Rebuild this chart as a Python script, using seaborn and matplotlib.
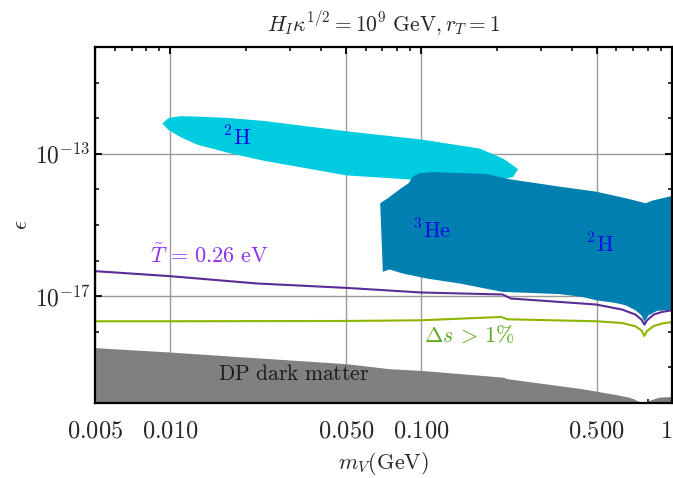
import numpy as np
import matplotlib
matplotlib.use("Agg")
import matplotlib.pyplot as plt
import matplotlib.ticker as mticker
import seaborn as sns

# ---------------- data (m_V in GeV, log10(epsilon)) ----------------
# light 2H region
h2a_m = [0.00923, 0.0098, 0.01089, 0.0127, 0.0167, 0.0234, 0.050, 0.100, 0.1706, 0.2111, 0.2312, 0.2421]
h2a_top = [-12.135, -11.977, -11.93, -11.94, -11.977, -12.062, -12.352, -12.586, -12.84, -13.121, -13.31, -13.42]
h2a_bot = [-12.135, -12.324, -12.513, -12.727, -12.95, -13.18, -13.592, -13.73, -13.79, -13.70, -13.64, -13.42]

# dark 3He / 2H region
he_top_m = [0.0686, 0.0736, 0.0782, 0.0832, 0.0891, 0.0925, 0.0984, 0.1112, 0.1811, 0.2244, 0.3548, 0.4966,
            0.6546, 0.7852, 0.8356, 1.0]
he_top = [-14.389, -14.248, -14.107, -13.966, -13.825, -13.639, -13.544, -13.515, -13.563, -13.713, -13.921,
          -14.062, -14.248, -14.389, -14.315, -14.183]
he_bot_m = [0.0703, 0.0746, 0.0843, 0.1047, 0.1419, 0.2109, 0.3548, 0.4385, 0.4983, 0.5943, 0.6516, 0.7145,
            0.7551, 0.7762, 0.807, 0.871, 1.0]
he_bot = [-16.315, -16.248, -16.361, -16.501, -16.642, -16.879, -16.94, -17.02, -17.113, -17.189, -17.254,
          -17.394, -17.535, -17.724, -17.535, -17.414, -17.375]

# T = 0.26 eV line
t_m = [0.005, 0.00995, 0.02203, 0.0502, 0.1, 0.2109, 0.228, 0.4385, 0.4983, 0.6324, 0.7145, 0.7551, 0.7762,
       0.7955, 0.8453, 0.912, 1.0]
t_eps = [-16.296, -16.437, -16.642, -16.766, -16.896, -16.952, -17.065, -17.206, -17.234, -17.375, -17.515,
         -17.656, -17.797, -17.676, -17.515, -17.442, -17.394]

# Delta s > 1% line
ds_m = [0.005, 0.00995, 0.0502, 0.1, 0.1462, 0.208, 0.2208, 0.4983, 0.6324, 0.7145, 0.7551, 0.7762, 0.7955,
        0.8453, 0.912, 1.0]
ds_eps = [-17.704, -17.704, -17.696, -17.676, -17.628, -17.583, -17.648, -17.704, -17.752, -17.845, -17.958,
          -18.118, -17.977, -17.837, -17.769, -17.724]

# DP dark matter region (upper edge)
dm_m = [0.005, 0.00995, 0.0502, 0.0746, 0.1, 0.2109, 0.2208, 0.4385, 0.4983, 0.5943, 0.673, 0.7362, 0.7762,
        0.807, 0.885, 1.0]
dm_eps = [-18.445, -18.569, -18.896, -19.037, -19.085, -19.273, -19.318, -19.6, -19.668, -19.761, -19.837,
          -19.949, -20.1, -19.93, -19.837, -19.817]

x_ticks = [0.005, 0.01, 0.05, 0.1, 0.5, 1]
x_ticklabels = ["0.005", "0.010", "0.050", "0.100", "0.500", "1"]
x_minor = [0.006, 0.007, 0.008, 0.009, 0.02, 0.03, 0.04, 0.06, 0.07, 0.08, 0.09,
           0.2, 0.3, 0.4, 0.6, 0.7, 0.8, 0.9]
y_ticks = [1e-13, 1e-17]
y_ticklabels = [r"$10^{-13}$", r"$10^{-17}$"]
y_minor = [1e-19, 1e-18, 1e-16, 1e-15, 1e-14, 1e-12, 1e-11]

# ---------------- style ----------------
sns.set_theme(style="ticks")
plt.rcParams["mathtext.fontset"] = "cm"
plt.rcParams["font.family"] = ["DejaVu Serif"]

fig = plt.figure(figsize=(6.73, 4.78), dpi=100)
ax = fig.add_axes([95 / 673, 1 - 403 / 478, 577 / 673, 356 / 478])
ax.set_xscale("log")
ax.set_yscale("log")

def pw(v):
    return 10.0 ** np.asarray(v)

# regions
ax.fill_between(h2a_m, pw(h2a_bot), pw(h2a_top), color="#00CCE0", lw=0, zorder=2)
ax.fill(np.r_[he_top_m, he_bot_m[::-1]], pw(np.r_[he_top, he_bot[::-1]]), color="#0080B0", lw=0, zorder=3)
ax.fill_between(dm_m, 1e-22, pw(dm_eps), color="#808080", lw=0, zorder=2)

# lines
sns.lineplot(x=t_m, y=pw(t_eps), ax=ax, color="#5A2C96", lw=1.5, estimator=None, zorder=4)
sns.lineplot(x=ds_m, y=pw(ds_eps), ax=ax, color="#8DB600", lw=1.5, estimator=None, zorder=4)

ax.set_xlim(0.005, 1)
ax.set_ylim(1e-20, 1e-10)

ax.xaxis.set_major_locator(mticker.FixedLocator(x_ticks))
ax.xaxis.set_major_formatter(mticker.FixedFormatter([f"${t}$" for t in x_ticklabels]))
ax.xaxis.set_minor_locator(mticker.FixedLocator(x_minor))
ax.xaxis.set_minor_formatter(mticker.NullFormatter())
ax.yaxis.set_major_locator(mticker.FixedLocator(y_ticks))
ax.yaxis.set_major_formatter(mticker.FixedFormatter(y_ticklabels))
ax.yaxis.set_minor_locator(mticker.FixedLocator(y_minor))
ax.yaxis.set_minor_formatter(mticker.NullFormatter())

ax.tick_params(which="both", direction="in", top=True, right=True, color="black")
ax.tick_params(which="major", length=5, width=1.3)
ax.tick_params(which="minor", length=3, width=1.1)
ax.tick_params(axis="x", which="major", labelsize=17.5, pad=12)
ax.tick_params(axis="y", which="major", labelsize=17, pad=3)

ax.grid(True, which="major", color="#9A9A9A", lw=1.0)
ax.set_axisbelow(True)
for s in ax.spines.values():
    s.set_linewidth(1.6)
    s.set_color("black")
    s.set_zorder(6)

ax.set_xlabel(r"$m_V(\mathrm{GeV})$", fontsize=16, labelpad=5)
ax.set_ylabel(r"$\epsilon$", fontsize=16, labelpad=2)
ax.set_title(r"$H_I\kappa^{1/2}=10^9\ \mathrm{GeV}, r_T=1$", fontsize=15.5, pad=11)

fig.canvas.draw()
last = ax.get_xticklabels()[-1]
last.set_horizontalalignment("right")

# text labels
fs = 16
ax.text(0.0162, 10 ** -12.766, r"$^2\mathrm{H}$", color="#1010E6", fontsize=fs, ha="left", va="baseline", zorder=5)
ax.text(0.0925, 10 ** -15.375, r"$^3\mathrm{He}$", color="#1010E6", fontsize=fs, ha="left", va="baseline", zorder=5)
ax.text(0.453, 10 ** -15.769, r"$^2\mathrm{H}$", color="#1010E6", fontsize=fs, ha="left", va="baseline", zorder=5)
ax.text(0.00828, 10 ** -16.07, r"$\tilde{T}\,=\,0.26\ \mathrm{eV}$", color="#9030F0", fontsize=fs, ha="left",
        va="baseline", zorder=5)
ax.text(0.103, 10 ** -18.287, r"$\Delta s\,>\,1\%$", color="#5AAA1E", fontsize=fs, ha="left", va="baseline",
        zorder=5)
ax.text(0.0154, 10 ** -19.366, r"$\mathrm{DP\ dark\ matter}$", color="#1a1a1a", fontsize=15.5, ha="left",
        va="baseline", zorder=5)

fig.savefig("out.png", dpi=100)
